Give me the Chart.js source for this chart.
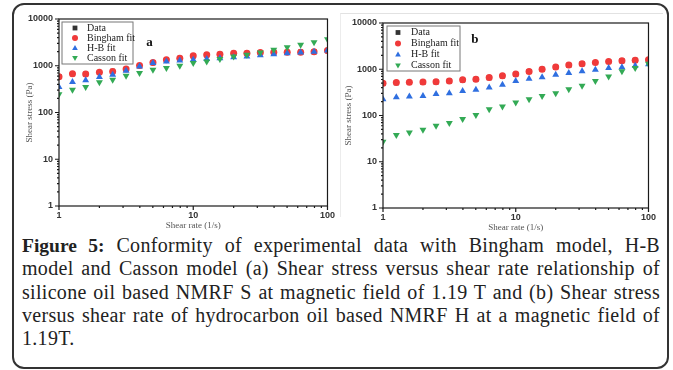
<!DOCTYPE html>
<html>
<head>
<meta charset="utf-8">
<script src="https://cdn.jsdelivr.net/npm/chart.js@4.4.0/dist/chart.umd.min.js"></script>
<style>
  body { margin: 0; width: 673px; height: 370px; background: #fff; position: relative; overflow: hidden; }
  #frame { position: absolute; left: 12px; top: 3px; width: 657px; height: 366px; box-sizing: border-box;
    border: 2px solid #333; border-radius: 12px; }
  #edge { position: absolute; left: 340px; top: 13px; width: 322px; height: 203px;
    border-top: 1px solid #e2e2e2; border-left: 1px solid #ececec; }
  canvas { position: absolute; }
  #chartA { left: 14px; top: 5px; }
  #chartB { left: 340px; top: 5px; }
  #caption { position: absolute; left: 22px; top: 234px; width: 638px;
    font-family: "Liberation Serif", serif; font-size: 20px; letter-spacing: 0.3px;
    line-height: 23.3px; color: #222; }
  #caption b { font-size: 19.5px; letter-spacing: 0; }
  #caption div { white-space: nowrap; text-align: justify; text-align-last: justify; }
  #caption div.last { text-align-last: left; }
</style>
</head>
<body>
<div id="frame"></div>
<div id="edge"></div>
<canvas id="chartA" width="325" height="228"></canvas>
<canvas id="chartB" width="320" height="228"></canvas>
<div id="caption">
  <div><b>Figure 5:</b> Conformity of experimental data with Bingham model, H-B</div>
  <div>model and Casson model (a) Shear stress versus shear rate relationship of</div>
  <div>silicone oil based NMRF S at magnetic field of 1.19 T and (b) Shear stress</div>
  <div>versus shear rate of hydrocarbon oil based NMRF H at a magnetic field of</div>
  <div class="last">1.19T.</div>
</div>
<script>
// shear rate (1/s), 10 points per decade
const shearRate = [1, 1.26, 1.58, 2, 2.51, 3.16, 3.98, 5.01, 6.31, 7.94, 10, 12.6, 15.8, 20, 25.1, 31.6, 39.8, 50.1, 63.1, 79.4, 100];

// (a) silicone oil based NMRF S
const dataA = [590, 670, 665, 715, 760, 840, 1000, 1160, 1330, 1450, 1620, 1700, 1760, 1850, 1860, 1910, 1940, 1950, 1960, 1990, 2100];
const binghamA = [583, 676, 670, 722, 758, 849, 1015, 1170, 1343, 1455, 1632, 1714, 1770, 1862, 1862, 1922, 1950, 1950, 1950, 2000, 2120];
const hbA = [352, 449, 487, 574, 644, 784, 968, 1140, 1237, 1297, 1342, 1387, 1455, 1527, 1580, 1685, 1771, 1862, 1922, 2000, 2120];
const cassonA = [245, 308, 352, 442, 504, 613, 698, 822, 892, 1000, 1140, 1237, 1388, 1580, 1714, 1923, 2188, 2494, 2800, 3190, 3690];

// (b) hydrocarbon oil based NMRF H
const dataB = [495, 510, 520, 522, 530, 555, 585, 605, 655, 715, 780, 890, 1000, 1110, 1225, 1310, 1400, 1470, 1520, 1570, 1600];
const binghamB = [500, 515, 525, 527, 535, 560, 590, 610, 662, 720, 785, 895, 1005, 1115, 1230, 1315, 1405, 1475, 1525, 1575, 1605];
const hbB = [225, 248, 256, 265, 292, 302, 340, 360, 405, 460, 560, 620, 675, 760, 825, 900, 975, 1060, 1100, 1190, 1290];
const cassonB = [27, 38, 43, 49, 60, 69, 84, 103, 136, 156, 190, 225, 265, 303, 370, 438, 560, 700, 900, 1060, 1310];

const seriesNames = ["Data", "Bingham fit", "H-B fit", "Casson fit"];
const seriesColors = ["#333333", "#f03a3a", "#2f6fe0", "#33aa55"];
const seriesStyles = ["rect", "circle", "triangle", "triangle"];
const seriesRotation = [0, 0, 0, 180];
const xTicks = [1, 10, 100];
const yTicks = [1, 10, 100, 1000, 10000];

// draw a legend marker by hand
function marker(ctx, style, rot, x, y, r, color) {
  ctx.fillStyle = color;
  ctx.beginPath();
  if (style === "rect") {
    ctx.rect(x - r * 0.8, y - r * 0.8, r * 1.6, r * 1.6);
  } else if (style === "circle") {
    ctx.arc(x, y, r, 0, Math.PI * 2);
  } else {
    const s = rot ? -1 : 1;
    ctx.moveTo(x, y - s * r);
    ctx.lineTo(x + r * 0.95, y + s * r * 0.7);
    ctx.lineTo(x - r * 0.95, y + s * r * 0.7);
    ctx.closePath();
  }
  ctx.fill();
}

// box around the plot, minor ticks, inner legend and panel letter
const framePlugin = {
  id: "frame",
  afterDraw(chart, args, opts) {
    const { ctx, chartArea: a, scales } = chart;
    const x = scales.x, y = scales.y;
    ctx.save();
    ctx.strokeStyle = "#1a1a1a";
    ctx.lineWidth = 1.2;
    ctx.strokeRect(a.left, a.top, a.right - a.left, a.bottom - a.top);

    ctx.beginPath();
    xTicks.forEach((t, i) => {
      const px = x.getPixelForValue(t);
      ctx.moveTo(px, a.bottom); ctx.lineTo(px, a.bottom + 4);
      if (i < xTicks.length - 1) {
        for (let m = 2; m < 10; m++) {
          const mx = x.getPixelForValue(t * m);
          ctx.moveTo(mx, a.bottom); ctx.lineTo(mx, a.bottom + 2);
        }
      }
    });
    yTicks.forEach((t, i) => {
      const py = y.getPixelForValue(t);
      ctx.moveTo(a.left - 4, py); ctx.lineTo(a.left, py);
      if (i < yTicks.length - 1) {
        for (let m = 2; m < 10; m++) {
          const my = y.getPixelForValue(t * m);
          ctx.moveTo(a.left - 2, my); ctx.lineTo(a.left, my);
        }
      }
    });
    ctx.stroke();

    // legend
    const bx = a.left + opts.boxX, by = a.top + opts.boxY;
    ctx.fillStyle = "#fff";
    ctx.fillRect(bx, by, opts.boxW, opts.boxH);
    ctx.strokeStyle = "#777";
    ctx.lineWidth = 1;
    ctx.strokeRect(bx, by, opts.boxW, opts.boxH);
    ctx.font = "10px 'Liberation Serif', serif";
    ctx.textBaseline = "middle";
    seriesNames.forEach((name, i) => {
      const ry = by + opts.rowTop + i * opts.rowH;
      marker(ctx, seriesStyles[i], seriesRotation[i], bx + opts.markX, ry, 3, seriesColors[i]);
      ctx.fillStyle = "#222";
      ctx.fillText(name, bx + opts.textX, ry);
    });

    // panel letter
    ctx.font = "bold 13px 'Liberation Serif', serif";
    ctx.fillStyle = "#111";
    ctx.textAlign = "center";
    ctx.fillText(opts.letter, a.left + opts.letterX * (a.right - a.left), a.top + opts.letterY * (a.bottom - a.top));
    ctx.restore();
  }
};

function makeDatasets(series) {
  return series.map((vals, i) => ({
    label: seriesNames[i],
    data: shearRate.map((r, k) => ({ x: r, y: vals[k] })),
    showLine: false,
    pointStyle: seriesStyles[i],
    rotation: seriesRotation[i],
    pointRadius: seriesStyles[i] === "triangle" ? 4 : 3.5,
    backgroundColor: seriesColors[i],
    borderColor: seriesColors[i],
    borderWidth: 0,
    order: 3 - i,
  }));
}

// Create one log-log panel
function createPanel(canvas, series, layout) {
  return new Chart(canvas, {
    type: "scatter",
    data: { datasets: makeDatasets(series) },
    options: {
      responsive: false,
      animation: false,
      devicePixelRatio: 1,
      layout: { padding: { top: layout.top, right: layout.right, left: 0, bottom: 0 } },
      plugins: {
        legend: { display: false },
        tooltip: { enabled: false },
        frame: layout.legend,
      },
      scales: {
        x: {
          type: "logarithmic",
          min: 1,
          max: 100,
          afterBuildTicks: (s) => { s.ticks = xTicks.map((v) => ({ value: v })); },
          afterFit: (s) => { s.height = layout.xHeight; },
          grid: { display: false, drawTicks: false },
          border: { display: false },
          ticks: {
            autoSkip: false,
            maxRotation: 0,
            padding: 4,
            color: "#333",
            font: { family: "'Liberation Sans', Arial, sans-serif", size: 9, weight: "bold" },
            callback: (v) => String(v),
          },
          title: {
            display: true,
            text: "Shear rate (1/s)",
            color: "#555",
            padding: { top: 0, bottom: layout.xTitlePad },
            font: { family: "'Liberation Serif', serif", size: 9 },
          },
        },
        y: {
          type: "logarithmic",
          min: 1,
          max: 10000,
          afterBuildTicks: (s) => { s.ticks = yTicks.map((v) => ({ value: v })); },
          afterFit: (s) => { s.width = layout.yWidth; },
          grid: { display: false, drawTicks: false },
          border: { display: false },
          ticks: {
            autoSkip: false,
            padding: 6,
            color: "#333",
            font: { family: "'Liberation Sans', Arial, sans-serif", size: 9, weight: "bold" },
            callback: (v) => String(v),
          },
          title: {
            display: true,
            text: "Shear stress (Pa)",
            color: "#555",
            padding: { top: layout.yTitlePad, bottom: 0 },
            font: { family: "'Liberation Serif', serif", size: 9 },
          },
        },
      },
    },
    plugins: [framePlugin],
  });
}

createPanel(document.getElementById("chartA"), [dataA, binghamA, hbA, cassonA], {
  top: 14, right: 10, yWidth: 45, xHeight: 27, xTitlePad: 2, yTitlePad: 10,
  legend: { boxX: 3, boxY: 3, boxW: 71, boxH: 42, rowTop: 6, rowH: 10, markX: 13, textX: 25,
    letter: "a", letterX: 0.337, letterY: 0.128 },
});

createPanel(document.getElementById("chartB"), [dataB, binghamB, hbB, cassonB], {
  top: 18, right: 11, yWidth: 43, xHeight: 25, xTitlePad: 0, yTitlePad: 3,
  legend: { boxX: 4, boxY: 3, boxW: 73, boxH: 45, rowTop: 6.5, rowH: 11, markX: 11, textX: 24,
    letter: "b", letterX: 0.346, letterY: 0.092 },
});
</script>
</body>
</html>
